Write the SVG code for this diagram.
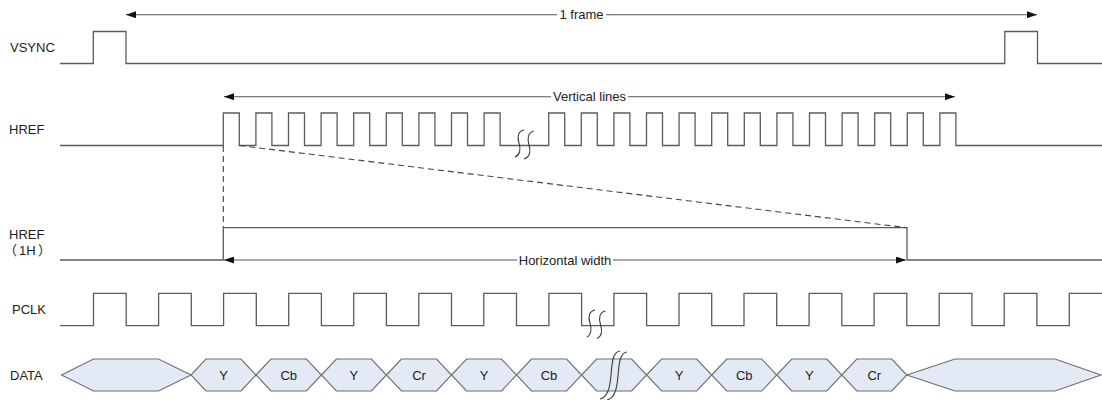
<svg xmlns="http://www.w3.org/2000/svg" width="1102" height="400" viewBox="0 0 1102 400">
<style>
text{font-family:"Liberation Sans","Noto Sans CJK SC",Arial,sans-serif;font-size:13px;fill:#222}
.mid{text-anchor:middle}
.sig{fill:none;stroke:#5c5c5c;stroke-width:1.3;stroke-linejoin:miter}
.hex{fill:#e3eaf6;stroke:#6e6e6e;stroke-width:1.1}
.brk{fill:none;stroke:#3c3c3c;stroke-width:1.1}
.arrow{fill:none;stroke:#555;stroke-width:1.1;marker-start:url(#ah);marker-end:url(#ah)}
.dash{fill:none;stroke:#444;stroke-width:1.1;stroke-dasharray:6 4}
</style>
<defs>
<marker id="ah" viewBox="0 0 10 7" refX="10" refY="3.5" markerWidth="10" markerHeight="7" markerUnits="userSpaceOnUse" orient="auto-start-reverse">
<path d="M0,0 L10,3.5 L0,7 z" fill="#111"/>
</marker>
</defs>
<rect width="1102" height="400" fill="#fff"/>

<g id="vsync">
<text x="10" y="52">VSYNC</text>
<path class="sig" d="M60,63.5 H93.3 V31.5 H126 V63.5 H1004.8 V31.5 H1037.5 V63.5 H1102"/>
</g>

<g id="href">
<text x="9" y="134">HREF</text>
<path class="sig" d="M60,145.5 H223.3 V113 H239.3 V145.5 H255.9 V113 H271.9 V145.5 H288.5 V113 H304.5 V145.5 H321.1 V113 H337.1 V145.5 H353.7 V113 H369.7 V145.5 H386.3 V113 H402.3 V145.5 H418.9 V113 H434.9 V145.5 H451.5 V113 H467.5 V145.5 H484.1 V113 H500.1 V145.5 H548.7 V113 H564.7 V145.5 H581.3 V113 H597.3 V145.5 H613.9 V113 H629.9 V145.5 H646.5 V113 H662.5 V145.5 H679.1 V113 H695.1 V145.5 H711.7 V113 H727.7 V145.5 H744.3 V113 H760.3 V145.5 H776.9 V113 H792.9 V145.5 H809.5 V113 H825.5 V145.5 H842.1 V113 H858.1 V145.5 H874.7 V113 H890.7 V145.5 H907.3 V113 H923.3 V145.5 H939.9 V113 H955.9 V145.5 H1102"/>
<path class="brk" d="M524,130 C518,131 517,137 519,143 C521,149 520,155 515,157"/>
<path class="brk" d="M534,131 C528,132 527,139 529,145 C531,151 530,157 524,159"/>
</g>

<g id="href-1h">
<text x="9" y="239">HREF</text>
<text y="255"><tspan x="4">（</tspan><tspan x="19">1H</tspan><tspan x="38">）</tspan></text>
<path class="sig" d="M60,260 H223.3 V227.7 H907 V260 H1102"/>
</g>

<g id="pclk">
<text x="12" y="314">PCLK</text>
<path class="sig" d="M60,325.7 H93.5 V293.3 H126.2 V325.7 H158.6 V293.3 H191.3 V325.7 H223.6 V293.3 H256.3 V325.7 H288.7 V293.3 H321.4 V325.7 H353.7 V293.3 H386.4 V325.7 H418.8 V293.3 H451.5 V325.7 H483.8 V293.3 H516.5 V325.7 H548.9 V293.3 H581.6 V325.7 H613.9 V293.3 H646.6 V325.7 H679 V293.3 H711.7 V325.7 H744 V293.3 H776.7 V325.7 H809.1 V293.3 H841.8 V325.7 H874.1 V293.3 H906.8 V325.7 H939.2 V293.3 H971.9 V325.7 H1004.2 V293.3 H1036.9 V325.7 H1069.3 V293.3 H1102"/>
<path class="brk" d="M595,310 C589,311 588,317 590,323 C592,329 591,335 587,337"/>
<path class="brk" d="M605.5,311 C599.5,312 598.5,318 600.5,324.5 C602.5,331 601.5,336.5 597,338.5"/>
</g>

<g id="data">
<text x="10" y="380">DATA</text>
<polygon class="hex" points="61.5,375 93.5,359 158.5,359 191,375 158.5,391 93.5,391"/>
<polygon class="hex" points="191,375 206,359 241,359 256,375 241,391 206,391"/>
<polygon class="hex" points="256,375 271,359 306.4,359 321.4,375 306.4,391 271,391"/>
<polygon class="hex" points="321.4,375 336.4,359 371.4,359 386.4,375 371.4,391 336.4,391"/>
<polygon class="hex" points="386.4,375 401.4,359 436.5,359 451.5,375 436.5,391 401.4,391"/>
<polygon class="hex" points="451.5,375 466.5,359 501.5,359 516.5,375 501.5,391 466.5,391"/>
<polygon class="hex" points="516.5,375 531.5,359 566.6,359 581.6,375 566.6,391 531.5,391"/>
<polygon class="hex" points="581.6,375 596.6,359 631.6,359 646.6,375 631.6,391 596.6,391"/>
<polygon class="hex" points="646.6,375 661.6,359 696.7,359 711.7,375 696.7,391 661.6,391"/>
<polygon class="hex" points="711.7,375 726.7,359 761.7,359 776.7,375 761.7,391 726.7,391"/>
<polygon class="hex" points="776.7,375 791.7,359 826.8,359 841.8,375 826.8,391 791.7,391"/>
<polygon class="hex" points="841.8,375 856.8,359 891.8,359 906.8,375 891.8,391 856.8,391"/>
<polygon class="hex" points="906.8,375 955,359 1055,359 1101,375 1055,391 955,391"/>
<text class="mid" x="223.5" y="380">Y</text>
<text class="mid" x="288.7" y="380">Cb</text>
<text class="mid" x="353.9" y="380">Y</text>
<text class="mid" x="419" y="380">Cr</text>
<text class="mid" x="484" y="380">Y</text>
<text class="mid" x="549" y="380">Cb</text>
<text class="mid" x="679.2" y="380">Y</text>
<text class="mid" x="744.2" y="380">Cb</text>
<text class="mid" x="809.3" y="380">Y</text>
<text class="mid" x="874.3" y="380">Cr</text>
<path class="brk" d="M620,351 C612,352 612,365 611,375 C610,387 608,397 600,399"/>
<path class="brk" d="M627,352 C619,353 619,366 618,376 C617,388 615,398 607,400"/>
</g>

<g id="connectors">
<path class="arrow" d="M126,14.7 H557 M606,14.7 H1037"/>
<text class="mid" x="581.5" y="19.3">1 frame</text>
<path class="arrow" d="M224,96.7 H551 M628,96.7 H955"/>
<text class="mid" x="589.5" y="101.3">Vertical lines</text>
<path class="arrow" d="M224,260 H517 M613,260 H906"/>
<text class="mid" x="565" y="264.6">Horizontal width</text>
<path class="dash" d="M223.3,146 V227"/>
<path class="dash" d="M239.3,145.5 L907,227.7"/>
</g>
</svg>
